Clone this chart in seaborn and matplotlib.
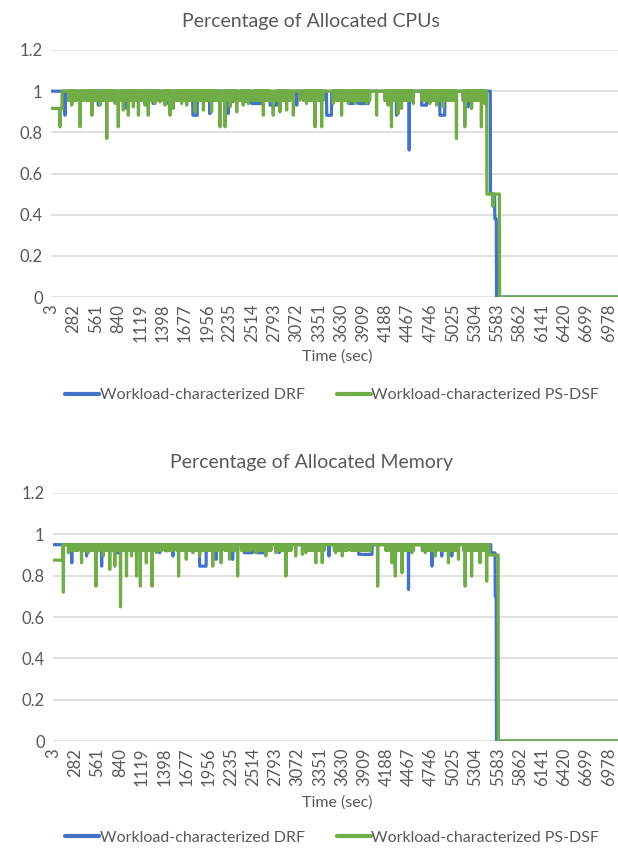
import numpy as np
import pandas as pd
import matplotlib
matplotlib.use("Agg")
import matplotlib.pyplot as plt
import seaborn as sns
from matplotlib.lines import Line2D

# ---------------- data ----------------
series_names = ["Workload-characterized DRF", "Workload-characterized PS-DSF"]
colors = ["#4472C4", "#70AD47"]
x_tick_values = [3 + 279 * k for k in range(26)]
y_tick_values = [0, 0.2, 0.4, 0.6, 0.8, 1.0, 1.2]
y_tick_labels = ["0", "0.2", "0.4", "0.6", "0.8", "1", "1.2"]
t_first, t_last, t_step = 3, 7092, 3

# stretches where the PS-DSF line flickers just below its ceiling (seen as a solid band)
band_t0 = [220, 357, 440, 615, 873, 1123, 1207, 1407, 1553, 2157, 2365, 2532, 2824, 3157,
           3532, 3740, 4178, 4636, 4860, 5157]
band_t1 = [323, 407, 573, 823, 1094, 1178, 1365, 1511, 2115, 2323, 2490, 2740, 2990, 3407,
           3699, 3990, 4532, 4824, 5074, 5449]
cpu_ps_band_low = 0.955
mem_ps_band_low = 0.922

# --- CPU, DRF (blue)
cpu_drf_base = 1.0
cpu_drf_dip_t = [178, 261, 594, 949, 1178, 1282, 1449, 1990, 2219, 3074, 4324, 4482, 5220]
cpu_drf_dip_v = [0.883, 0.94, 0.932, 0.916, 0.94, 0.94, 0.94, 0.891, 0.891, 0.932, 0.883, 0.714, 0.924]
cpu_drf_block_t0 = [1774, 2511, 2740, 3449, 3740, 3845, 4636, 4865, 2240, 2440]
cpu_drf_block_t1 = [1832, 2657, 2824, 3511, 3782, 3970, 4699, 4928, 2280, 2480]
cpu_drf_block_v = [0.883, 0.94, 0.932, 0.883, 0.94, 0.94, 0.932, 0.883, 0.95, 0.95]
cpu_drf_tail_t = [5499, 5553, 5574]
cpu_drf_tail_v = [0.5, 0.38, 0.0]

# --- CPU, PS-DSF (green)
cpu_ps_base = 1.0
cpu_ps_head_t = 138
cpu_ps_head_v = 0.916
cpu_ps_dip_t = [115, 261, 365, 407, 512, 615, 699, 803, 844, 907, 969, 1032, 1094, 1178,
                1219, 1303, 1365, 1428, 1490, 1532, 1636, 1699, 1803, 1907, 2011, 2115,
                2178, 2240, 2324, 2407, 2469, 2657, 2782, 2865, 2949, 3032, 3115, 3199,
                3303, 3386, 3532, 3636, 3719, 3803, 3949, 4074, 4219, 4261, 4344, 4386,
                4532, 4740, 4824, 4907, 5074, 5178, 5261, 5386, 5428, 5528]
cpu_ps_dip_v = [0.827, 0.932, 0.827, 0.956, 0.883, 0.932, 0.770, 0.94, 0.827, 0.908, 0.883,
                0.924, 0.883, 0.932, 0.883, 0.94, 0.948, 0.932, 0.883, 0.916, 0.94, 0.932,
                0.899, 0.908, 0.899, 0.827, 0.827, 0.924, 0.899, 0.932, 0.94, 0.883, 0.883,
                0.899, 0.908, 0.883, 0.956, 0.94, 0.827, 0.827, 0.94, 0.883, 0.94, 0.94,
                0.94, 0.883, 0.932, 0.827, 0.891, 0.916, 0.94, 0.94, 0.932, 0.924, 0.770,
                0.827, 0.916, 0.827, 0.94, 0.44]
cpu_ps_block_t0 = [5453]
cpu_ps_block_t1 = [5612]
cpu_ps_block_v = [0.5]
cpu_ps_tail_t = [5613]
cpu_ps_tail_v = [0.0]

# --- Memory, DRF (blue)
mem_drf_base = 0.95
mem_drf_dip_t = [236, 424, 611, 1340, 1507, 2049, 2257, 2840, 3465, 4299, 4465, 4757, 4882, 5007]
mem_drf_dip_v = [0.862, 0.895, 0.846, 0.911, 0.895, 0.879, 0.879, 0.911, 0.895, 0.830, 0.733,
                 0.846, 0.895, 0.895]
mem_drf_block_t0 = [799, 1841, 2403, 2549, 3840]
mem_drf_block_t1 = [840, 1924, 2507, 2674, 4007]
mem_drf_block_v = [0.911, 0.846, 0.911, 0.911, 0.903]
mem_drf_tail_t = [5499, 5553, 5568]
mem_drf_tail_v = [0.91, 0.7, 0.0]

# --- Memory, PS-DSF (green)
mem_ps_base = 0.95
mem_ps_head_t = 128
mem_ps_head_v = 0.875
mem_ps_dip_t = [132, 194, 299, 361, 444, 540, 632, 715, 778, 849, 924, 986, 1049, 1099, 1174,
                1244, 1299, 1424, 1507, 1578, 1674, 1757, 1841, 2007, 2111, 2216, 2319, 2424,
                2549, 2674, 2799, 2924, 3049, 3132, 3174, 3299, 3382, 3549, 3632, 3716, 4078,
                4257, 4299, 4382, 4507, 4674, 4799, 4966, 5091, 5174, 5257, 5361, 5444]
mem_ps_dip_v = [0.72, 0.911, 0.927, 0.862, 0.911, 0.749, 0.895, 0.830, 0.846, 0.649, 0.798,
                0.895, 0.798, 0.749, 0.862, 0.749, 0.911, 0.919, 0.927, 0.798, 0.879, 0.911,
                0.895, 0.846, 0.862, 0.879, 0.798, 0.919, 0.911, 0.895, 0.911, 0.798, 0.895,
                0.903, 0.911, 0.862, 0.862, 0.911, 0.895, 0.927, 0.749, 0.862, 0.798, 0.814,
                0.911, 0.911, 0.895, 0.862, 0.879, 0.749, 0.798, 0.862, 0.773]
mem_ps_block_t0 = [5478]
mem_ps_block_t1 = [5589]
mem_ps_block_v = [0.90]
mem_ps_tail_t = [5590]
mem_ps_tail_v = [0.0]


def build(base, dip_t, dip_v, b0, b1, bv, tail_t, tail_v, head=None, band_low=None):
    t = np.arange(t_first, t_last + 1, t_step)
    y = np.full(t.shape, base, dtype=float)
    if band_low is not None:
        for s, e in zip(band_t0, band_t1):
            idx = np.where((t >= s) & (t <= e))[0]
            y[idx[::2]] = band_low
    if head is not None:
        y[t <= head[0]] = head[1]
    for s, e, v in zip(b0, b1, bv):
        y[(t >= s) & (t <= e)] = v
    for tt, v in zip(tail_t, tail_v):
        y[t >= tt] = v
    for tt, v in zip(dip_t, dip_v):
        y[np.argmin(np.abs(t - tt))] = v
    return t, y


t, cpu_drf = build(cpu_drf_base, cpu_drf_dip_t, cpu_drf_dip_v, cpu_drf_block_t0,
                   cpu_drf_block_t1, cpu_drf_block_v, cpu_drf_tail_t, cpu_drf_tail_v)
_, cpu_ps = build(cpu_ps_base, cpu_ps_dip_t, cpu_ps_dip_v,
                  cpu_ps_block_t0, cpu_ps_block_t1, cpu_ps_block_v, cpu_ps_tail_t,
                  cpu_ps_tail_v, head=(cpu_ps_head_t, cpu_ps_head_v), band_low=cpu_ps_band_low)
_, mem_drf = build(mem_drf_base, mem_drf_dip_t, mem_drf_dip_v, mem_drf_block_t0,
                   mem_drf_block_t1, mem_drf_block_v, mem_drf_tail_t, mem_drf_tail_v)
_, mem_ps = build(mem_ps_base, mem_ps_dip_t, mem_ps_dip_v, mem_ps_block_t0,
                  mem_ps_block_t1, mem_ps_block_v, mem_ps_tail_t, mem_ps_tail_v,
                  head=(mem_ps_head_t, mem_ps_head_v), band_low=mem_ps_band_low)

cpu_df = pd.DataFrame({"Time": np.concatenate([t, t]),
                       "Value": np.concatenate([cpu_drf, cpu_ps]),
                       "Series": [series_names[0]] * len(t) + [series_names[1]] * len(t)})
mem_df = pd.DataFrame({"Time": np.concatenate([t, t]),
                       "Value": np.concatenate([mem_drf, mem_ps]),
                       "Series": [series_names[0]] * len(t) + [series_names[1]] * len(t)})

# ---------------- style ----------------
sns.set_theme(style="white")
plt.rcParams["font.family"] = ["Lato", "DejaVu Sans"]
text_color = "#595959"
grid_color = "#D9D9D9"

W, H = 618, 850
fig = plt.figure(figsize=(W / 100, H / 100), dpi=100)


def make_axes(left_px, top_px, bottom_px):
    return fig.add_axes([left_px / W, 1 - bottom_px / H, (W - left_px) / W, (bottom_px - top_px) / H])


panels = [
    (cpu_df, "Percentage of Allocated CPUs", make_axes(51, 50, 297), 27, 357, 395),
    (mem_df, "Percentage of Allocated Memory", make_axes(53, 493, 741), 468, 803, 838),
]

for df, title, ax, title_base, xlabel_y, legend_y in panels:
    for yv in y_tick_values:
        ax.axhline(yv, color=grid_color, lw=1.1, zorder=0)
    sns.lineplot(data=df, x="Time", y="Value", hue="Series", hue_order=series_names,
                 palette=colors, linewidth=2.3, estimator=None, sort=False,
                 legend=False, ax=ax)
    ax.set_xlim(1.5, 7093.5)
    ax.set_ylim(0, 1.2)
    ax.set_yticks(y_tick_values)
    ax.set_yticklabels(y_tick_labels)
    ax.set_xticks(x_tick_values)
    ax.set_xticklabels([str(v) for v in x_tick_values], rotation=90)
    ax.tick_params(axis="both", length=0, colors=text_color, labelsize=12)
    ax.tick_params(axis="y", pad=6)
    ax.tick_params(axis="x", pad=5)
    for sp in ax.spines.values():
        sp.set_visible(False)
    ax.set_xlabel("")
    ax.set_ylabel("")
    ax.patch.set_alpha(0)
    fig.text(311 / W, 1 - title_base / H, title, ha="center", va="baseline",
             fontsize=14, color=text_color)
    fig.text(337 / W, 1 - xlabel_y / H, "Time (sec)", ha="center", va="center",
             fontsize=11.5, color=text_color)
    handles = [Line2D([0], [0], color=c, lw=3) for c in colors]
    fig.legend(handles, series_names, loc="center", bbox_to_anchor=(332 / W, 1 - legend_y / H),
               ncol=2, frameon=False, fontsize=11.5, handlelength=2.13, handletextpad=0.05,
               columnspacing=2.0, labelcolor=text_color)

fig.savefig("out.png", dpi=100, facecolor="white")
